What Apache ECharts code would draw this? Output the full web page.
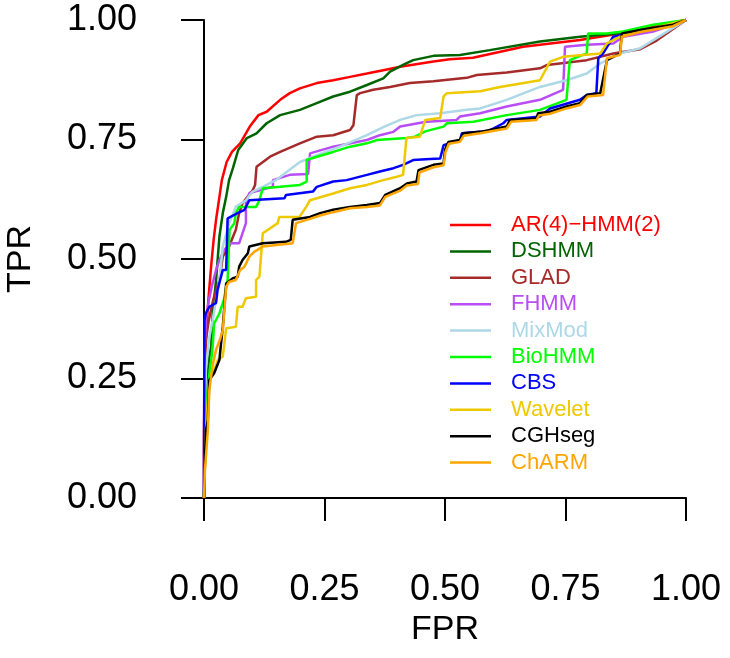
<!DOCTYPE html>
<html>
<head>
<meta charset="utf-8">
<script src="https://cdn.jsdelivr.net/npm/echarts@6/dist/echarts.min.js"></script>
<style>
html,body{margin:0;padding:0;background:#fff;}
#chart{width:730px;height:658px;}
</style>
</head>
<body>
<div id="chart"></div>
<script>
// ---- data: [FPR, TPR] pairs ----
const AR4_HMM2 = [[0,0],[0,.136],[.002,.274],[.005,.351],[.009,.414],[.015,.487],[.020,.540],[.025,.582],[.031,.623],[.037,.665],[.047,.703],[.058,.724],[.075,.742],[.095,.777],[.113,.801],[.130,.808],[.158,.833],[.178,.847],[.199,.857],[.234,.868],[.268,.874],[.303,.881],[.338,.888],[.372,.895],[.407,.902],[.476,.913],[.510,.918],[.558,.921],[.662,.944],[.780,.958],[.869,.973],[.932,.986],[1,1]];
const DSHMM = [[0,0],[.002,.142],[.006,.226],[.010,.289],[.015,.317],[.018,.386],[.025,.456],[.032,.547],[.039,.596],[.046,.630],[.052,.665],[.060,.690],[.071,.728],[.089,.753],[.109,.763],[.130,.784],[.158,.801],[.199,.812],[.234,.826],[.268,.840],[.303,.850],[.338,.864],[.372,.878],[.386,.892],[.413,.906],[.434,.916],[.476,.925],[.531,.927],[.593,.937],[.697,.955],[.780,.965],[.869,.973],[.932,.983],[1,1]];
const GLAD = [[0,0],[.001,.247],[.004,.331],[.010,.372],[.019,.414],[.025,.435],[.032,.456],[.039,.505],[.052,.526],[.066,.561],[.073,.596],[.080,.617],[.101,.644],[.106,.655],[.109,.693],[.137,.714],[.158,.724],[.199,.742],[.234,.756],[.268,.759],[.303,.770],[.310,.780],[.317,.843],[.324,.847],[.351,.854],[.386,.860],[.427,.868],[.476,.872],[.545,.879],[.566,.885],[.628,.890],[.697,.899],[.712,.906],[.794,.916],[.849,.930],[.905,.939],[.939,.957],[1,1]];
const FHMM = [[0,0],[0,.163],[.001,.31],[.004,.372],[.010,.414],[.017,.446],[.025,.477],[.032,.498],[.042,.519],[.056,.533],[.073,.533],[.080,.554],[.087,.575],[.087,.617],[.094,.638],[.143,.651],[.143,.665],[.178,.676],[.216,.678],[.220,.721],[.268,.735],[.338,.749],[.365,.759],[.393,.766],[.407,.777],[.461,.787],[.524,.791],[.531,.798],[.573,.805],[.628,.819],[.697,.833],[.745,.854],[.749,.944],[.794,.948],[.849,.951],[.870,.965],[.932,.976],[1,1]];
const MixMod = [[0,0],[.001,.163],[.004,.268],[.010,.331],[.018,.372],[.025,.414],[.032,.456],[.039,.526],[.052,.575],[.066,.609],[.087,.623],[.101,.641],[.122,.651],[.149,.665],[.199,.703],[.241,.720],[.282,.735],[.338,.759],[.372,.776],[.407,.791],[.441,.801],[.490,.805],[.545,.812],[.573,.815],[.628,.833],[.697,.860],[.752,.874],[.794,.888],[.822,.909],[.863,.930],[.905,.941],[.939,.962],[1,1]];
const BioHMM = [[0,0],[.002,.079],[.005,.163],[.008,.226],[.012,.268],[.015,.289],[.018,.317],[.021,.365],[.032,.386],[.041,.414],[.049,.456],[.053,.561],[.063,.575],[.066,.596],[.073,.609],[.108,.609],[.115,.623],[.122,.648],[.158,.651],[.199,.655],[.213,.662],[.213,.707],[.234,.714],[.268,.724],[.303,.735],[.338,.742],[.359,.749],[.420,.753],[.438,.756],[.459,.767],[.497,.777],[.504,.784],[.559,.787],[.628,.801],[.697,.812],[.752,.833],[.759,.916],[.794,.930],[.797,.972],[.835,.972],[.869,.976],[.932,.990],[1,1]];
const CBS = [[0,0],[.001,.372],[.004,.387],[.011,.400],[.025,.408],[.028,.435],[.039,.477],[.046,.477],[.049,.585],[.070,.596],[.084,.603],[.094,.623],[.167,.627],[.170,.634],[.226,.641],[.234,.651],[.268,.662],[.296,.665],[.338,.676],[.365,.683],[.393,.690],[.413,.697],[.434,.707],[.469,.709],[.490,.710],[.497,.738],[.531,.749],[.535,.763],[.573,.766],[.587,.766],[.621,.784],[.628,.791],[.697,.798],[.718,.815],[.780,.833],[.794,.843],[.814,.847],[.818,.920],[.828,.930],[.849,.965],[.905,.976],[.974,.990],[1,1]];
const Wavelet = [[0,0],[.002,.079],[.004,.142],[.008,.205],[.012,.247],[.021,.268],[.029,.289],[.039,.296],[.046,.355],[.066,.358],[.070,.400],[.080,.400],[.087,.418],[.108,.421],[.108,.456],[.115,.463],[.122,.554],[.153,.575],[.156,.588],[.198,.588],[.212,.609],[.220,.623],[.268,.637],[.303,.648],[.338,.655],[.372,.665],[.400,.672],[.413,.676],[.420,.753],[.448,.756],[.459,.791],[.490,.795],[.497,.840],[.504,.847],[.573,.851],[.614,.860],[.697,.874],[.718,.913],[.745,.923],[.822,.930],[.836,.951],[.849,.958],[.877,.972],[.932,.983],[1,1]];
const CGHseg = [[0,0],[.002,.079],[.004,.142],[.008,.163],[.011,.247],[.021,.261],[.032,.289],[.035,.320],[.039,.358],[.046,.449],[.060,.460],[.070,.463],[.073,.484],[.080,.498],[.091,.512],[.094,.526],[.122,.533],[.170,.536],[.180,.540],[.184,.582],[.220,.588],[.241,.596],[.268,.603],[.303,.609],[.338,.613],[.365,.617],[.376,.634],[.407,.648],[.421,.658],[.441,.662],[.445,.686],[.476,.697],[.497,.700],[.500,.728],[.507,.745],[.531,.749],[.538,.763],[.573,.766],[.628,.777],[.635,.791],[.690,.794],[.693,.805],[.718,.808],[.752,.819],[.780,.826],[.794,.843],[.822,.847],[.836,.916],[.863,.930],[.867,.972],[.905,.979],[.973,.990],[1,1]];
const ChARM = [[0,0],[.002,.059],[.008,.142],[.011,.226],[.018,.278],[.025,.310],[.033,.331],[.039,.351],[.046,.442],[.052,.452],[.066,.456],[.075,.477],[.084,.484],[.094,.505],[.104,.515],[.122,.526],[.184,.533],[.191,.575],[.220,.584],[.241,.591],[.268,.598],[.303,.606],[.338,.609],[.365,.612],[.376,.630],[.407,.643],[.421,.654],[.444,.657],[.447,.681],[.476,.692],[.497,.696],[.501,.724],[.508,.741],[.531,.745],[.539,.758],[.573,.763],[.628,.773],[.637,.787],[.690,.791],[.695,.800],[.718,.804],[.752,.815],[.780,.822],[.796,.840],[.828,.843],[.836,.920],[.863,.927],[.867,.965],[.905,.975],[.973,.987],[1,1]];

const seriesNames = ['AR(4)\u2212HMM(2)','DSHMM','GLAD','FHMM','MixMod','BioHMM','CBS','Wavelet','CGHseg','ChARM'];
const seriesData = [AR4_HMM2, DSHMM, GLAD, FHMM, MixMod, BioHMM, CBS, Wavelet, CGHseg, ChARM];
const seriesColors = ['#FF0000','#006400','#A52A2A','#B94DF5','#ADD8E6','#00FF00','#0000FF','#EEC900','#000000','#FFA500'];
const tickValues = [0, 0.25, 0.5, 0.75, 1];

const FONT = '"Liberation Sans", Arial, Helvetica, sans-serif';
const chart = echarts.init(document.getElementById('chart'), null, {renderer:'canvas'});

const axisCommon = {
  type:'value', min:0, max:1, interval:0.25,
  axisLine:{show:true, lineStyle:{color:'#000', width:2}},
  axisTick:{show:true, inside:false, length:23, lineStyle:{color:'#000', width:2}},
  splitLine:{show:false},
  axisLabel:{color:'#000', fontSize:36, fontFamily:FONT, formatter:v=>v.toFixed(2)},
  nameTextStyle:{color:'#000', fontSize:34, fontFamily:FONT}
};

chart.setOption({
  animation:false,
  backgroundColor:'#fff',
  grid:{left:204, right:44, top:20, bottom:160, containLabel:false, outerBoundsMode:'none'},
  xAxis:Object.assign({}, axisCommon, {
    position:'bottom', offset:19,
    name:'FPR', nameLocation:'middle', nameGap:96,
    axisLabel:Object.assign({}, axisCommon.axisLabel, {margin:55})
  }),
  yAxis:Object.assign({}, axisCommon, {
    position:'left', offset:20,
    name:'TPR', nameLocation:'middle', nameGap:146, nameRotate:90,
    axisLabel:Object.assign({}, axisCommon.axisLabel, {margin:47})
  }),
  legend:{
    orient:'vertical', left:450, top:214, padding:0,
    itemWidth:41, itemHeight:2.5, itemGap:4.4, icon:'rect',
    textStyle:{fontSize:22, lineHeight:22, fontFamily:FONT, padding:[0,0,0,15]},
    data:seriesNames.map((n,i)=>({name:n, textStyle:{color:seriesColors[i]}}))
  },
  series:seriesNames.map((n,i)=>({
    name:n, type:'line', data:seriesData[i], showSymbol:false, symbol:'none',
    clip:false, color:seriesColors[i],
    lineStyle:{color:seriesColors[i], width:2.5}
  }))
});
</script>
</body>
</html>
